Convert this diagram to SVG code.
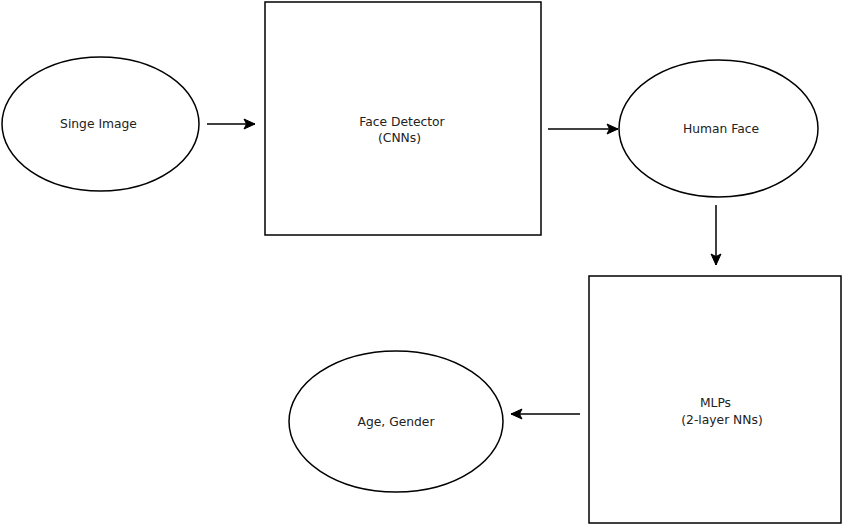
<svg xmlns="http://www.w3.org/2000/svg" width="843" height="525" viewBox="0 0 843 525">
<style>
.shape{fill:#fff;stroke:#000;stroke-width:1.5}
.lbl{font-family:"DejaVu Sans",sans-serif;font-size:12.3px;fill:#222;text-anchor:middle}
.edge{fill:none;stroke:#000;stroke-width:1.5}
</style>
<defs>
<marker id="arr" markerUnits="userSpaceOnUse" markerWidth="14" markerHeight="12" viewBox="-12 -6 14 12" refX="0" refY="0" orient="auto">
<path d="M-11,-5 L0,0 L-11,5 L-8.5,0 Z" fill="#000" stroke="#000" stroke-width="1"/>
</marker>
</defs>
<rect width="843" height="525" fill="#fff"/>
<g id="single-image">
<ellipse class="shape" cx="100.5" cy="124" rx="98.5" ry="67"/>
<text class="lbl" x="98.5" y="128">Singe Image</text>
</g>
<g id="face-detector">
<rect class="shape" x="265" y="2" width="276" height="233"/>
<text class="lbl" x="402" y="126">Face Detector</text>
<text class="lbl" x="399.5" y="142">(CNNs)</text>
</g>
<g id="human-face">
<ellipse class="shape" cx="718.5" cy="128.5" rx="99.5" ry="68.5"/>
<text class="lbl" x="721" y="133">Human Face</text>
</g>
<g id="mlps">
<rect class="shape" x="589" y="276" width="252" height="247"/>
<text class="lbl" x="715.5" y="407">MLPs</text>
<text class="lbl" x="722" y="424">(2-layer NNs)</text>
</g>
<g id="age-gender">
<ellipse class="shape" cx="396" cy="421.5" rx="107" ry="70.5"/>
<text class="lbl" x="396" y="426">Age, Gender</text>
</g>
<g id="connectors">
<path class="edge" d="M207,124 L255,124" marker-end="url(#arr)"/>
<path class="edge" d="M548,129 L618,129" marker-end="url(#arr)"/>
<path class="edge" d="M716,205 L716,265" marker-end="url(#arr)"/>
<path class="edge" d="M580,414 L511,414" marker-end="url(#arr)"/>
</g>
</svg>
